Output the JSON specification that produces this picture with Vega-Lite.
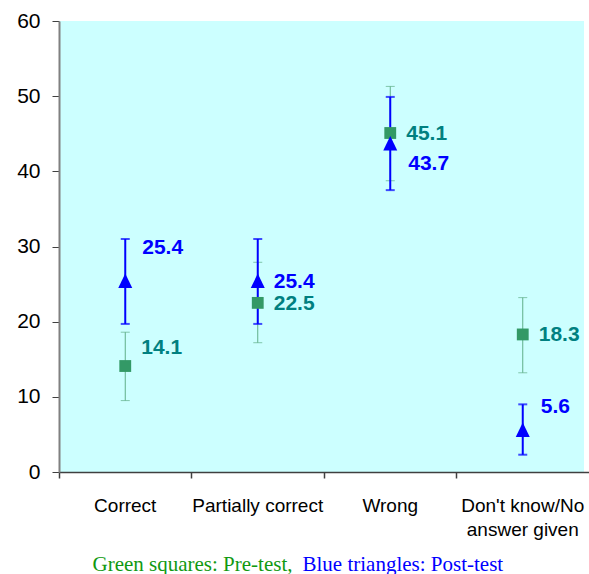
{
  "$schema": "https://vega.github.io/schema/vega-lite/v6.json",
  "autosize": "none",
  "width": 525,
  "height": 451,
  "padding": {"left": 59, "top": 21, "right": 5, "bottom": 102},
  "background": "white",
  "config": {"view": {"fill": "#CCFFFF", "stroke": null}},
  "data": {"values": [
    {"cat": "Correct", "test": "Pre", "v": 14.1, "lo": 9.5, "hi": 18.6},
    {"cat": "Partially correct", "test": "Pre", "v": 22.5, "lo": 17.2, "hi": 27.9},
    {"cat": "Wrong", "test": "Pre", "v": 45.1, "lo": 38.75, "hi": 51.3},
    {"cat": "Don't know/No answer given", "test": "Pre", "v": 18.3, "lo": 13.2, "hi": 23.2},
    {"cat": "Correct", "test": "Post", "v": 25.4, "lo": 19.7, "hi": 31.0},
    {"cat": "Partially correct", "test": "Post", "v": 25.4, "lo": 19.7, "hi": 31.0},
    {"cat": "Wrong", "test": "Post", "v": 43.7, "lo": 37.5, "hi": 49.9},
    {"cat": "Don't know/No answer given", "test": "Post", "v": 5.6, "lo": 2.3, "hi": 9.0}
  ]},
  "resolve": {"axis": {"x": "independent"}},
  "layer": [
    {
      "transform": [{"filter": "datum.test == 'Pre'"}],
      "mark": {"type": "rule", "color": "#5fae88", "strokeWidth": 1},
      "encoding": {
        "x": {"field": "cat", "type": "nominal", "sort": null,
          "scale": {"paddingInner": 0, "paddingOuter": 0, "range": [0, 530]},
          "axis": {"orient": "bottom", "ticks": false, "domain": true, "domainColor": "#404040", "domainWidth": 1.5,
            "labelAngle": 0, "labelFont": "Liberation Sans", "labelFontSize": 19, "labelColor": "black",
            "labelPadding": 24, "labelLineHeight": 24,
            "labelExpr": "datum.value == \"Don't know/No answer given\" ? [\"Don't know/No\", \"answer given\"] : datum.value",
            "title": "Green squares: Pre-test,", "titleX": 33, "titleY": 98, "titleAlign": "left", "titleBaseline": "alphabetic",
            "titleFont": "Liberation Serif", "titleFontSize": 21, "titleFontWeight": "normal", "titleColor": "#119911"}},
        "y": {"field": "lo", "type": "quantitative",
          "scale": {"domain": [0, 60], "nice": false, "zero": true},
          "axis": {"values": [0, 10, 20, 30, 40, 50, 60], "grid": false, "domainColor": "#808080", "domainWidth": 2,
            "tickColor": "#404040", "tickSize": 7, "tickWidth": 1, "labelFont": "Liberation Sans", "labelFontSize": 21,
            "labelColor": "black", "labelPadding": 12, "title": null}},
        "y2": {"field": "hi"}
      }
    },
    {
      "transform": [{"filter": "datum.test == 'Pre'"}],
      "mark": {"type": "tick", "color": "#5fae88", "size": 9, "thickness": 1},
      "encoding": {
        "x": {"field": "cat", "type": "nominal", "sort": null,
          "axis": {"orient": "bottom", "bandPosition": 0, "labels": false, "domain": false, "ticks": true, "tickSize": 6,
            "tickColor": "#404040", "tickWidth": 1.5, "grid": false,
            "title": "Blue triangles: Post-test", "titleX": 243, "titleY": 98, "titleAlign": "left", "titleBaseline": "alphabetic",
            "titleFont": "Liberation Serif", "titleFontSize": 21, "titleFontWeight": "normal", "titleColor": "#0000FF"}},
        "y": {"field": "lo", "type": "quantitative"}
      }
    },
    {
      "transform": [{"filter": "datum.test == 'Pre'"}],
      "mark": {"type": "tick", "color": "#5fae88", "size": 9, "thickness": 1},
      "encoding": {
        "x": {"field": "cat", "type": "nominal", "sort": null, "axis": null},
        "y": {"field": "hi", "type": "quantitative"}
      }
    },
    {
      "transform": [{"filter": "datum.test == 'Post'"}],
      "mark": {"type": "rule", "color": "#0000FF", "strokeWidth": 2},
      "encoding": {
        "x": {"field": "cat", "type": "nominal", "sort": null, "axis": null},
        "y": {"field": "lo", "type": "quantitative"},
        "y2": {"field": "hi"}
      }
    },
    {
      "transform": [{"filter": "datum.test == 'Post'"}],
      "mark": {"type": "tick", "color": "#0000FF", "size": 9, "thickness": 2},
      "encoding": {
        "x": {"field": "cat", "type": "nominal", "sort": null, "axis": null},
        "y": {"field": "lo", "type": "quantitative"}
      }
    },
    {
      "transform": [{"filter": "datum.test == 'Post'"}],
      "mark": {"type": "tick", "color": "#0000FF", "size": 9, "thickness": 2},
      "encoding": {
        "x": {"field": "cat", "type": "nominal", "sort": null, "axis": null},
        "y": {"field": "hi", "type": "quantitative"}
      }
    },
    {
      "transform": [{"filter": "datum.test == 'Pre'"}],
      "mark": {"type": "point", "shape": "square", "filled": true, "size": 140, "color": "#339966", "opacity": 1, "strokeWidth": 0},
      "encoding": {
        "x": {"field": "cat", "type": "nominal", "sort": null, "axis": null},
        "y": {"field": "v", "type": "quantitative"}
      }
    },
    {
      "transform": [{"filter": "datum.test == 'Post'"}],
      "mark": {"type": "point", "shape": "M0,-1.07L-1,1L1,1Z", "filled": true, "size": 196, "color": "#0000FF", "opacity": 1, "strokeWidth": 0},
      "encoding": {
        "x": {"field": "cat", "type": "nominal", "sort": null, "axis": null},
        "y": {"field": "v", "type": "quantitative"}
      }
    },
    {
      "transform": [{"filter": "(datum.cat == 'Partially correct') || (datum.test == 'Pre' && datum.cat != 'Correct')"}],
      "mark": {"type": "text", "align": "left", "baseline": "middle", "dx": 16, "dy": 1, "font": "Liberation Sans", "fontWeight": "bold", "fontSize": 21},
      "encoding": {
        "x": {"field": "cat", "type": "nominal", "sort": null, "axis": null},
        "y": {"field": "v", "type": "quantitative"},
        "text": {"field": "v", "type": "quantitative", "format": ".1f"},
        "color": {"field": "test", "type": "nominal", "scale": {"domain": ["Pre", "Post"], "range": ["#008080", "#0000FF"]}, "legend": null}
      }
    },
    {
      "transform": [{"filter": "datum.cat == 'Correct' && datum.test == 'Post'"}],
      "mark": {"type": "text", "align": "left", "baseline": "middle", "dx": 17, "dy": -33, "font": "Liberation Sans", "fontWeight": "bold", "fontSize": 21, "color": "#0000FF"},
      "encoding": {
        "x": {"field": "cat", "type": "nominal", "sort": null, "axis": null},
        "y": {"field": "v", "type": "quantitative"},
        "text": {"field": "v", "type": "quantitative", "format": ".1f"}
      }
    },
    {
      "transform": [{"filter": "datum.cat == 'Correct' && datum.test == 'Pre'"}],
      "mark": {"type": "text", "align": "left", "baseline": "middle", "dx": 16, "dy": -18, "font": "Liberation Sans", "fontWeight": "bold", "fontSize": 21, "color": "#008080"},
      "encoding": {
        "x": {"field": "cat", "type": "nominal", "sort": null, "axis": null},
        "y": {"field": "v", "type": "quantitative"},
        "text": {"field": "v", "type": "quantitative", "format": ".1f"}
      }
    },
    {
      "transform": [{"filter": "datum.cat == 'Wrong' && datum.test == 'Post'"}],
      "mark": {"type": "text", "align": "left", "baseline": "middle", "dx": 18, "dy": 20, "font": "Liberation Sans", "fontWeight": "bold", "fontSize": 21, "color": "#0000FF"},
      "encoding": {
        "x": {"field": "cat", "type": "nominal", "sort": null, "axis": null},
        "y": {"field": "v", "type": "quantitative"},
        "text": {"field": "v", "type": "quantitative", "format": ".1f"}
      }
    },
    {
      "transform": [{"filter": "datum.cat == \"Don't know/No answer given\" && datum.test == 'Post'"}],
      "mark": {"type": "text", "align": "left", "baseline": "middle", "dx": 18, "dy": -23, "font": "Liberation Sans", "fontWeight": "bold", "fontSize": 21, "color": "#0000FF"},
      "encoding": {
        "x": {"field": "cat", "type": "nominal", "sort": null, "axis": null},
        "y": {"field": "v", "type": "quantitative"},
        "text": {"field": "v", "type": "quantitative", "format": ".1f"}
      }
    }
  ]
}
